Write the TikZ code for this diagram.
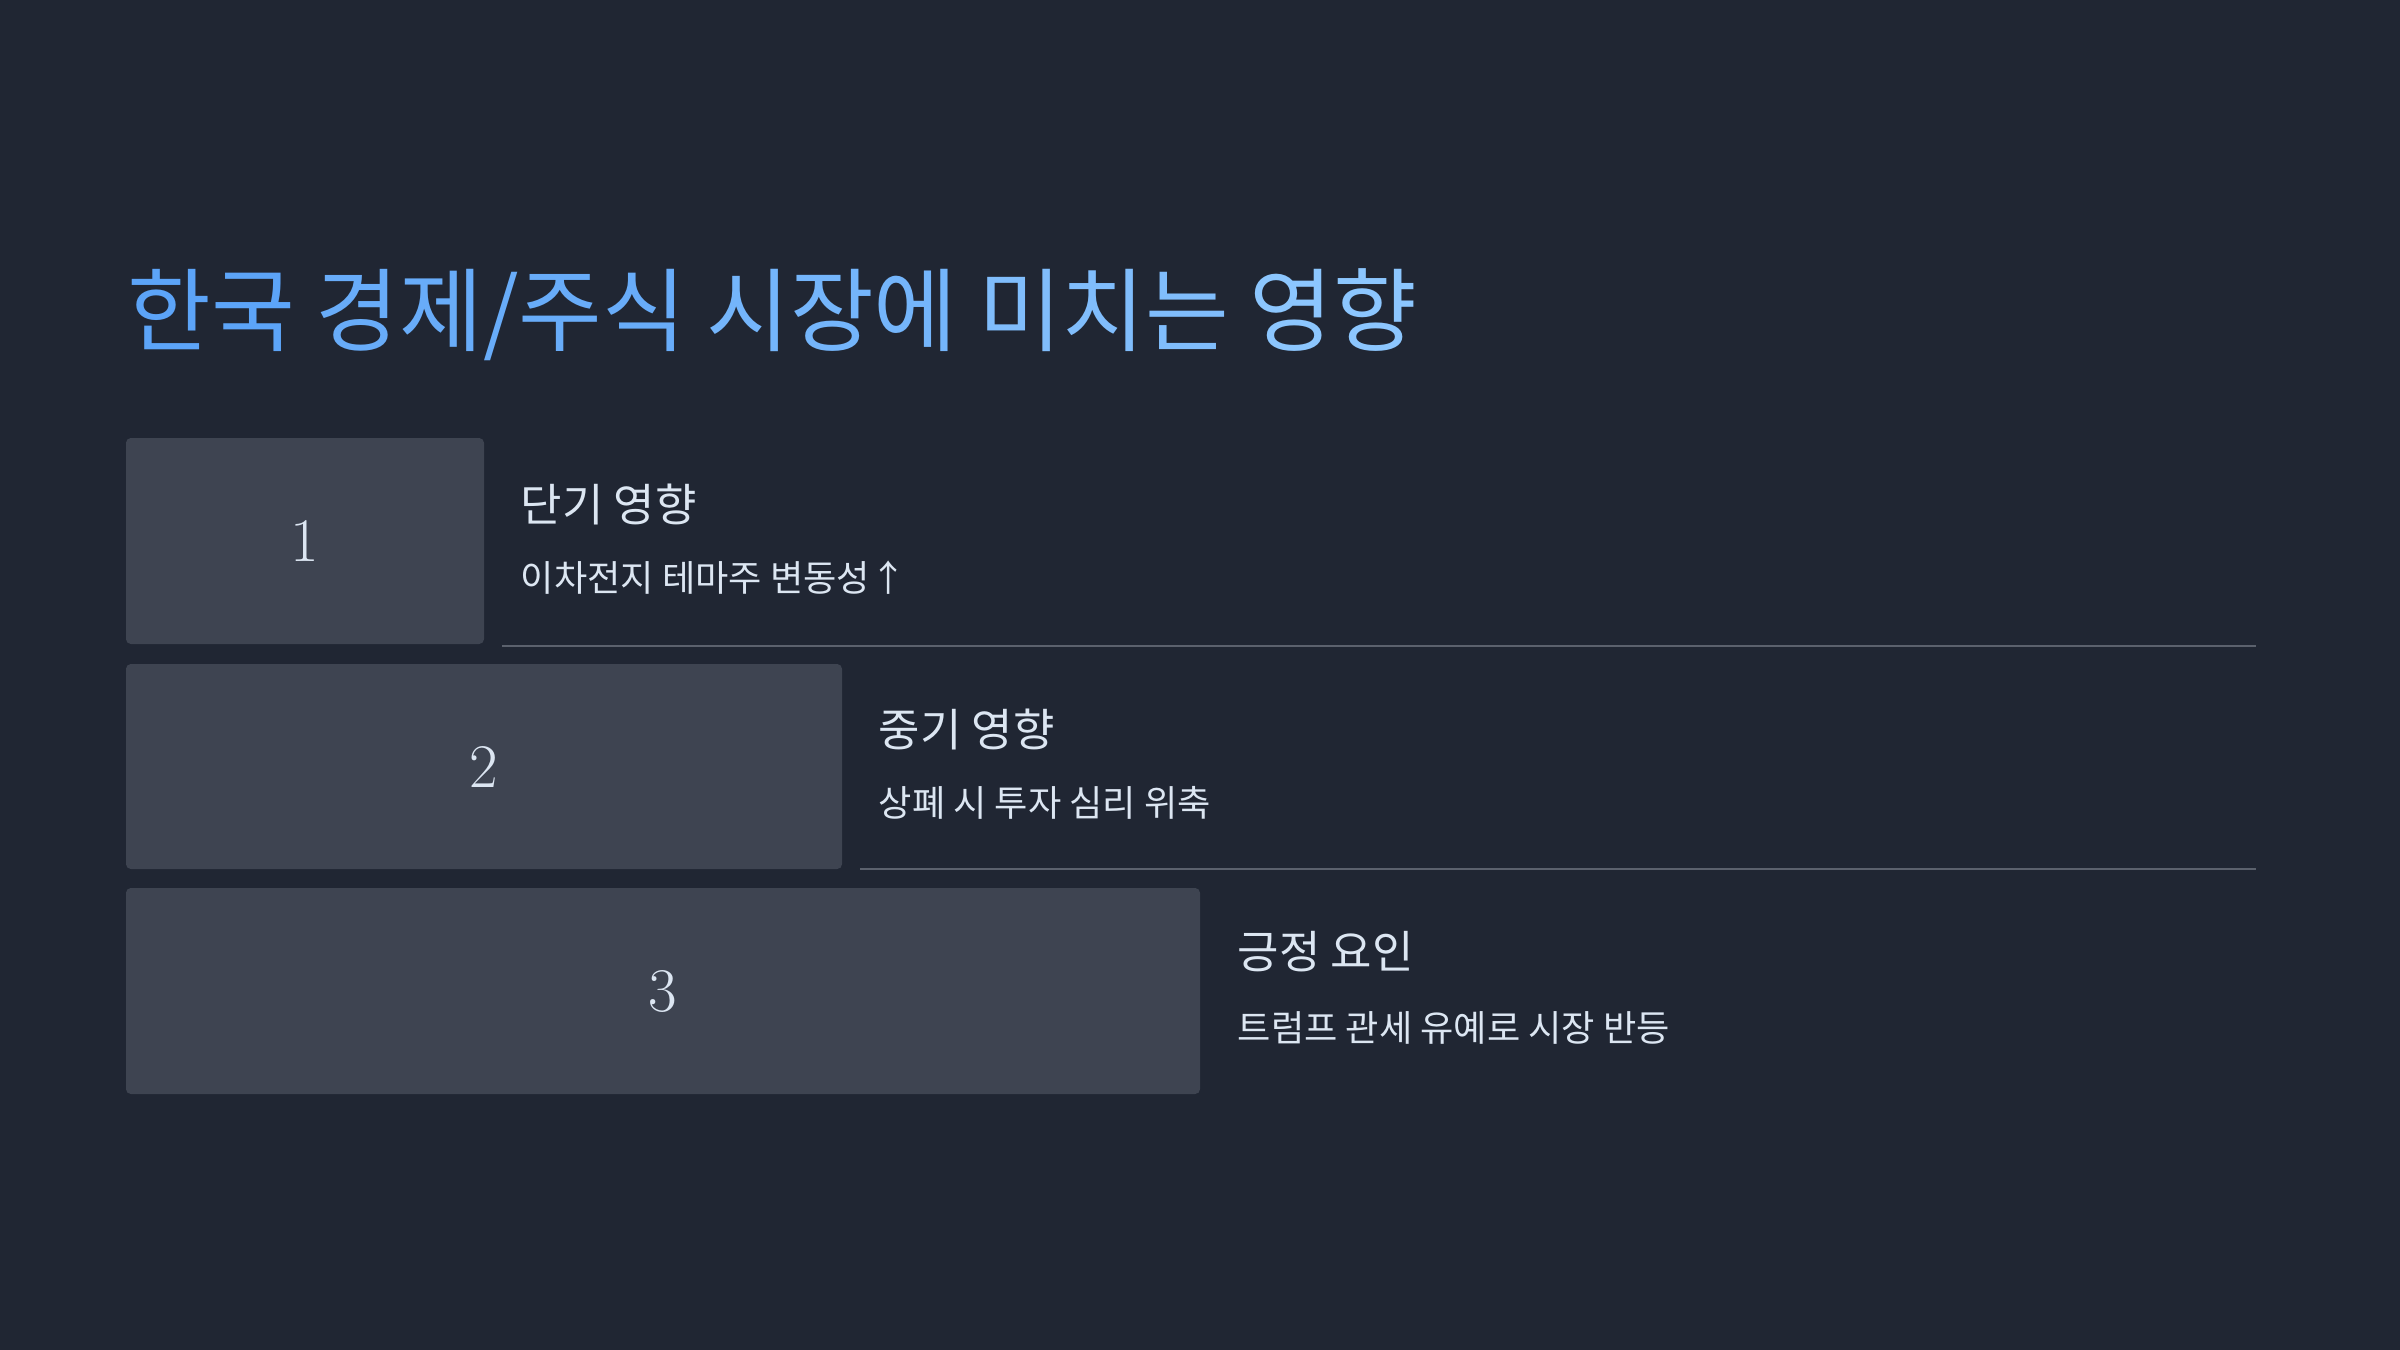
\documentclass[tikz,border=0pt]{standalone}
\usepackage{fontspec}
\newfontfamily\kr{Noto Sans CJK KR}
\definecolor{bg}{HTML}{202633}
\definecolor{boxc}{HTML}{3E4451}
\definecolor{sepc}{HTML}{5B616D}
\definecolor{txt}{HTML}{DCE6F2}
\definecolor{tA}{HTML}{5CA4F8}
\definecolor{tB}{HTML}{8CC6FE}
\begin{document}
\begin{tikzpicture}[x=0.25pt,y=-0.25pt,
  numbox/.style={fill=boxc, rounded corners=1.2pt, inner sep=0pt, text=txt, font=\fontsize{15.5}{18}\selectfont},
  head/.style={anchor=west, inner sep=0pt, text=txt, font=\kr\fontsize{11.25}{13}\selectfont},
  sub/.style={anchor=west, inner sep=0pt, text=txt, font=\kr\fontsize{9.05}{11}\selectfont},
  sepline/.style={draw=sepc, line width=0.5pt},
  title/.style={anchor=west, inner sep=0pt, font=\kr\fontsize{22.75}{26}\selectfont}]
\fill[bg] (0,0) rectangle (2400,1350);
\useasboundingbox (0,0) rectangle (2400,1350);
\node[title] (t) at (127,315) {\textcolor{tA}{한국} \textcolor{tA!75!tB}{경제/주식} \textcolor{tA!50!tB}{시장에} \textcolor{tA!25!tB}{미치는} \textcolor{tB}{영향}};
\node[numbox, minimum width=89.5pt, minimum height=51.5pt] (b1) at (305,541) {1};
\node[numbox, minimum width=179pt, minimum height=51.25pt] (b2) at (484,766.5) {2};
\node[numbox, minimum width=268.5pt, minimum height=51.5pt] (b3) at (663,991) {3};
\node[head] (h1) at (520,504) {단기 영향};
\node[sub] (s1) at (520,578) {이차전지 테마주 변동성↑};
\node[head] (h2) at (878,729) {중기 영향};
\node[sub] (s2) at (878,803) {상폐 시 투자 심리 위축};
\node[head] (h3) at (1237,952) {긍정 요인};
\node[sub] (s3) at (1237,1028) {트럼프 관세 유예로 시장 반등};
\coordinate (l1a) at (502,646);
\coordinate (l1b) at (2256,646);
\coordinate (l2a) at (860,869);
\coordinate (l2b) at (2256,869);
\draw[sepline] (l1a) -- (l1b);
\draw[sepline] (l2a) -- (l2b);
\end{tikzpicture}
\end{document}
